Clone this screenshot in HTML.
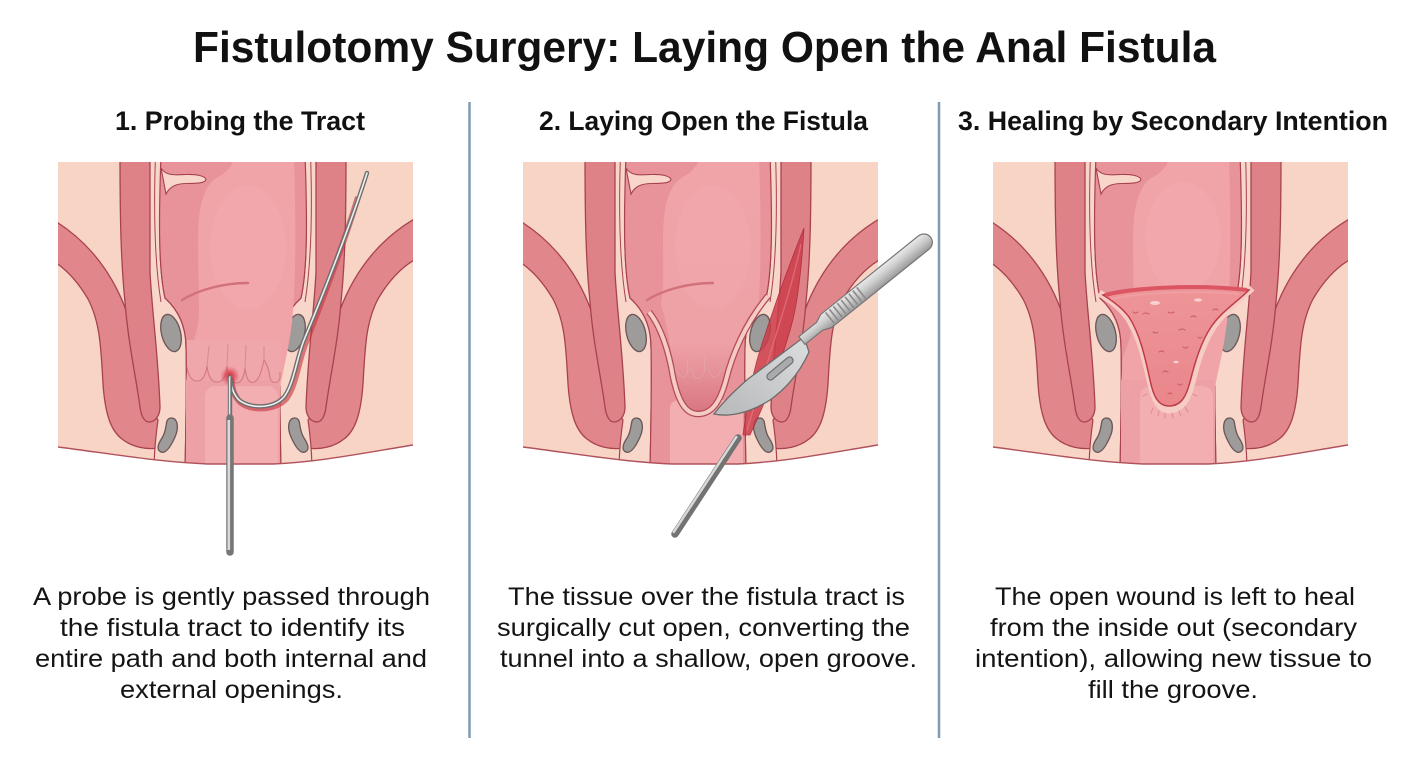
<!DOCTYPE html>
<html><head><meta charset="utf-8">
<style>html,body{margin:0;padding:0;background:#fff;}svg{display:block}</style>
</head>
<body>
<svg width="1408" height="768" viewBox="0 0 1408 768" xmlns="http://www.w3.org/2000/svg" xmlns:xlink="http://www.w3.org/1999/xlink">
<defs>
  <clipPath id="box"><path d="M0,0 H355 V283 C300,292 260,300 215,302 L150,302 C100,300 55,292 0,285 Z"/></clipPath>
  <radialGradient id="glow" cx="0.5" cy="0.5" r="0.5">
    <stop offset="0" stop-color="#c8202e" stop-opacity="0.95"/>
    <stop offset="0.5" stop-color="#d83a48" stop-opacity="0.6"/>
    <stop offset="1" stop-color="#e05060" stop-opacity="0"/>
  </radialGradient>
  <linearGradient id="p2lumen" x1="0" y1="0" x2="0" y2="252" gradientUnits="userSpaceOnUse">
    <stop offset="0" stop-color="#f0a4a8"/>
    <stop offset="0.72" stop-color="#eea1a6"/>
    <stop offset="0.86" stop-color="#e48d95"/>
    <stop offset="1" stop-color="#d9747e"/>
  </linearGradient>
  <linearGradient id="wedgeG" x1="0" y1="125" x2="0" y2="245" gradientUnits="userSpaceOnUse">
    <stop offset="0" stop-color="#ee9598"/>
    <stop offset="1" stop-color="#e9868b"/>
  </linearGradient>
  <linearGradient id="handleG" x1="0" y1="-9" x2="0" y2="9" gradientUnits="userSpaceOnUse">
    <stop offset="0" stop-color="#ececec"/>
    <stop offset="0.45" stop-color="#cdcdcd"/>
    <stop offset="1" stop-color="#979797"/>
  </linearGradient>
  <linearGradient id="bladeG" x1="280" y1="180" x2="215" y2="250" gradientUnits="userSpaceOnUse">
    <stop offset="0" stop-color="#dadbdc"/>
    <stop offset="1" stop-color="#bcbdbf"/>
  </linearGradient>

  <g id="half">
    <path d="M-8,56 C20,72 50,100 68,148 L98,150 L101,286 C88,288 74,285 64,277 C52,268 47,250 45,222 C43,185 42,160 30,137 C20,120 8,106 -8,97 Z" fill="#e1868b" stroke="#a8424e" stroke-width="1.3"/>
    <path d="M84,-8 L104,-8 C101,50 100,105 107,136 C117,145 128,160 128,185 C129,215 128,255 127,310 L96,310 C96,292 98,272 100,258 L88,240 Z" fill="#f8d6c9" stroke="#a8424e" stroke-width="1.2"/>
    <path d="M97.5,-8 C95.5,50 96.5,100 103,140" fill="none" stroke="#a8424e" stroke-width="1"/>
    <path d="M62,-8 L92,-8 L92,110 C94,150 100,190 102,245 C102,255 96,260 91,260 C86,260 83,253 82,245 C78,215 70,180 67,140 C63,100 62,60 62,-8 Z" fill="#df8288" stroke="#a8424e" stroke-width="1.3"/>
    <ellipse cx="113" cy="171" rx="9.5" ry="19" transform="rotate(-14 113 171)" fill="#9e9b9b" stroke="#6a5658" stroke-width="1.3"/>
    <path d="M113,256 C120,256 121,266 117,275 C113,284 108,292 103,290 C98,288 100,282 104,276 C108,270 108,262 109,259 C110,257 111,256 113,256 Z" fill="#9e9b9b" stroke="#6a5658" stroke-width="1.3"/>
  </g>

  <g id="anat">
    <path d="M0,0 H355 V283 C300,292 260,300 215,302 L150,302 C100,300 55,292 0,285 Z" fill="#f8d4c5"/>
    <use xlink:href="#half"/>
    <use xlink:href="#half" transform="matrix(-1 0 0 1 350 0)"/>
    <path d="M103,-8 C101,50 100,105 107,136 C117,145 128,160 128,185 C129,215 128,255 127,310 L223,310 C222,255 221,215 222,185 C222,160 233,145 243,136 C250,105 249,50 247,-8 Z" fill="#e8939a" stroke="#a8424e" stroke-width="1.2"/>
  </g>

  <path id="lumen13" d="M178,-8 C175,4 168,11 160,15 C151,20 148,28 145,36 C141,48 140,62 140,80 C140,105 141,130 141,150 C141,165 136,180 130,195 L128,225 L222,225 C226,205 231,185 234,160 C238,125 238,60 236,-8 Z"/>

  <g id="fold">
    <path d="M103,6 C108,14 116,13 128,12.5 C139,12 147,14 148,17.5 C147,21 140,21.5 129,21.5 C119,21.5 112,24 108,32 Z" fill="#f8d6c9" stroke="#a8424e" stroke-width="1.1"/>
  </g>
</defs>

<!-- Title -->
<text x="704.5" y="62" text-anchor="middle" font-family="'Liberation Sans', Arial, sans-serif" font-size="44" font-weight="700" fill="#111" textLength="1023" lengthAdjust="spacingAndGlyphs">Fistulotomy Surgery: Laying Open the Anal Fistula</text>

<!-- Headings -->
<g font-family="'Liberation Sans', Arial, sans-serif" font-size="27" font-weight="700" fill="#111" text-anchor="middle">
  <text x="240" y="130" textLength="250" lengthAdjust="spacingAndGlyphs">1. Probing the Tract</text>
  <text x="703.5" y="130" textLength="329" lengthAdjust="spacingAndGlyphs">2. Laying Open the Fistula</text>
  <text x="1173" y="130" textLength="430" lengthAdjust="spacingAndGlyphs">3. Healing by Secondary Intention</text>
</g>

<!-- Dividers -->
<line x1="469.5" y1="102" x2="469.5" y2="738" stroke="#7f9bb2" stroke-width="2.5"/>
<line x1="939" y1="102" x2="939" y2="738" stroke="#7f9bb2" stroke-width="2.5"/>

<!-- Body text -->
<g font-family="'Liberation Sans', Arial, sans-serif" font-size="25" fill="#141414" text-anchor="middle">
  <text x="231.5" y="605" textLength="397" lengthAdjust="spacingAndGlyphs">A probe is gently passed through</text>
  <text x="232.5" y="636" textLength="345" lengthAdjust="spacingAndGlyphs">the fistula tract to identify its</text>
  <text x="231" y="667" textLength="392" lengthAdjust="spacingAndGlyphs">entire path and both internal and</text>
  <text x="231.5" y="698" textLength="223" lengthAdjust="spacingAndGlyphs">external openings.</text>

  <text x="706.5" y="605" textLength="397" lengthAdjust="spacingAndGlyphs">The tissue over the fistula tract is</text>
  <text x="703.5" y="636" textLength="413" lengthAdjust="spacingAndGlyphs">surgically cut open, converting the</text>
  <text x="708.5" y="667" textLength="417" lengthAdjust="spacingAndGlyphs">tunnel into a shallow, open groove.</text>

  <text x="1175" y="605" textLength="360" lengthAdjust="spacingAndGlyphs">The open wound is left to heal</text>
  <text x="1173.5" y="636" textLength="367" lengthAdjust="spacingAndGlyphs">from the inside out (secondary</text>
  <text x="1173.5" y="667" textLength="397" lengthAdjust="spacingAndGlyphs">intention), allowing new tissue to</text>
  <text x="1173" y="698" textLength="170" lengthAdjust="spacingAndGlyphs">fill the groove.</text>
</g>

<!-- ================= PANEL 1 ================= -->
<g transform="translate(58,162)">
  <g clip-path="url(#box)">
    <use xlink:href="#anat"/>
    <use xlink:href="#lumen13" fill="#f0a4a8"/>
    <ellipse cx="190" cy="85" rx="38" ry="62" fill="#f3b1b3" opacity="0.25"/>
    <use xlink:href="#fold"/>
    <path d="M124,138 C140,128 165,121 190,121" fill="none" stroke="#d3717a" stroke-width="2.4" stroke-linecap="round"/>
    <!-- canal -->
    <path d="M128,218 L222,218 L222,310 L128,310 Z" fill="#eda0a5"/>
    <path d="M147,236 Q147,224 159,224 L208,224 Q220,224 220,236 L220,310 L147,310 Z" fill="#f2aeb1"/>
    <!-- scallops (no top outline) -->
    <path d="M129,178 L223,178 L222,216 C220,222 214,222 212,216 C211,208 209,202 206,198 C204,206 202,218 196,220 C190,222 188,214 187,206 C186,214 184,221 178,221 C172,221 170,212 169,204 C168,212 166,220 159,220 C152,220 150,212 149,204 C148,212 145,219 139,219 C133,219 130,212 129,205 Z" fill="#f0a7ab"/>
    <path d="M222,210 L222,216 C220,222 214,222 212,216 C211,208 209,202 206,198 C204,206 202,218 196,220 C190,222 188,214 187,206 C186,214 184,221 178,221 C172,221 170,212 169,204 C168,212 166,220 159,220 C152,220 150,212 149,204 C148,212 145,219 139,219 C133,219 130,212 129,205" fill="none" stroke="#d17a82" stroke-width="1.1"/>
    <path d="M149,204 L151,184 M169,204 L170,182 M187,206 L188,183 M206,198 L206,184" stroke="#d98890" stroke-width="1" fill="none"/>
    <circle cx="172" cy="214" r="10" fill="url(#glow)"/>
  </g>
  <path d="M0,285 C55,292 100,300 150,302 L215,302 C260,300 300,292 355,283" fill="none" stroke="#b0525c" stroke-width="1.4"/>
  <!-- probe -->
  <path d="M300,35 C288,75 264,140 248,180 C240,200 238,224 228,237 C216,249 192,249 182,240 C176,234 174,226 173,216" fill="none" stroke="#c4303c" stroke-width="6" opacity="0.6"/>
  <path d="M309,11 C290,70 262,140 246,178 C238,198 236,222 226,235 C215,247 192,247 181,238 C175,232 173,224 172,215" fill="none" stroke="#6f6f6f" stroke-width="4.4" stroke-linecap="round"/>
  <path d="M309,11 C290,70 262,140 246,178 C238,198 236,222 226,235 C215,247 192,247 181,238 C175,232 173,224 172,215" fill="none" stroke="#efefef" stroke-width="1.6" stroke-linecap="round"/>
  <line x1="172" y1="215" x2="172" y2="262" stroke="#6f6f6f" stroke-width="4.4"/>
  <line x1="171.6" y1="215" x2="171.6" y2="262" stroke="#e6e6e6" stroke-width="1.5"/>
  <path d="M172,256 L172,390" stroke="#767676" stroke-width="7.5" stroke-linecap="round"/>
  <path d="M170.8,258 L170.8,388" stroke="#dadada" stroke-width="2.6"/>
</g>

<!-- ================= PANEL 2 ================= -->
<g transform="translate(523,162)">
  <g clip-path="url(#box)">
    <use xlink:href="#anat"/>
    <path d="M147,246 Q147,238 159,238 L208,238 Q220,238 220,246 L220,310 L147,310 Z" fill="#f2aeb1"/>
    <path d="M178,-8 C175,4 168,11 160,15 C151,20 148,28 145,36 C141,48 140,62 140,80 C140,105 141,125 138,142 C145,165 148,190 152,215 C157,238 163,250 175,250 C188,250 196,238 201,218 C207,192 218,160 236,140 C238,100 238,50 236,-8 Z" fill="url(#p2lumen)"/>
    <ellipse cx="190" cy="85" rx="38" ry="62" fill="#f3b1b3" opacity="0.25"/>
    <use xlink:href="#fold"/>
    <path d="M124,138 C140,128 165,121 190,121" fill="none" stroke="#d3717a" stroke-width="2.4" stroke-linecap="round"/>
    <!-- faint scallops -->
    <path d="M150,200 C154,214 160,218 164,212 C166,206 168,204 170,212 C172,218 178,218 181,210 C183,204 185,206 188,212 C191,218 196,214 200,204" fill="none" stroke="#e0a0a6" stroke-width="1.2" opacity="0.8"/>
    <path d="M164,212 L165,196 M181,210 L182,194" stroke="#e3a7ad" stroke-width="1" opacity="0.8"/>
    <!-- groove rim -->
    <path d="M126,150 C138,165 146,190 150,215 C155,238 162,252 175,252 C189,252 197,240 203,218 C209,193 222,162 245,134" fill="none" stroke="#b04c57" stroke-width="6.5"/>
    <path d="M126,150 C138,165 146,190 150,215 C155,238 162,252 175,252 C189,252 197,240 203,218 C209,193 222,162 245,134" fill="none" stroke="#f5cbc3" stroke-width="4"/>
    <!-- incision -->
    <path d="M281,66 C279,100 275,140 268,165 C261,190 248,228 227,273 L220,273 C223,250 229,212 238,185 C246,160 260,118 281,66 Z" fill="#cc3d4a" opacity="0.85" stroke="#a82434" stroke-width="0.8"/>
    <path d="M278,82 C270,120 257,160 247,192 C239,220 231,246 224,268" fill="none" stroke="#e5707a" stroke-width="1.4" opacity="0.8"/>
  </g>
  <path d="M0,285 C55,292 100,300 150,302 L215,302 C260,300 300,292 355,283" fill="none" stroke="#b0525c" stroke-width="1.4"/>
  <!-- probe -->
  <line x1="152" y1="372" x2="215" y2="276" stroke="#737373" stroke-width="7.5" stroke-linecap="round"/>
  <line x1="150.8" y1="370" x2="213.3" y2="275" stroke="#dadada" stroke-width="2.4" stroke-linecap="round"/>
  <!-- scalpel blade -->
  <path d="M281,175 L225,217 C210,230 200,240 191,252 C205,255 225,252 247,238 C264,226 277,210 286,190 Z" fill="url(#bladeG)" stroke="#6b6b6b" stroke-width="1.3"/>
  <rect x="241" y="203" width="32" height="7" rx="3.5" transform="rotate(-40 257 206.5)" fill="#a9aaac" stroke="#6b6b6b" stroke-width="1.1"/>
  <!-- scalpel handle -->
  <g transform="translate(282,176) rotate(-38.8)">
    <path d="M-4,-5 L19,-5 L27,-8.5 L152,-8.5 C157,-8.5 161,-5 161,0 C161,5 157,8.5 152,8.5 L27,8.5 L19,5 L-4,5 Z" fill="url(#handleG)" stroke="#767676" stroke-width="1.2"/>
    <g stroke="#8a8a8a" stroke-width="1.6">
      <line x1="32" y1="-7" x2="32" y2="7"/>
      <line x1="37" y1="-7" x2="37" y2="7"/>
      <line x1="42" y1="-7" x2="42" y2="7"/>
      <line x1="47" y1="-7" x2="47" y2="7"/>
      <line x1="52" y1="-7" x2="52" y2="7"/>
      <line x1="57" y1="-7" x2="57" y2="7"/>
      <line x1="62" y1="-7" x2="62" y2="7"/>
      <line x1="67" y1="-7" x2="67" y2="7"/>
      <line x1="72" y1="-7" x2="72" y2="7"/>
    </g>
  </g>
</g>

<!-- ================= PANEL 3 ================= -->
<g transform="translate(993,162)">
  <g clip-path="url(#box)">
    <use xlink:href="#anat"/>
    <use xlink:href="#lumen13" fill="#f0a4a8"/>
    <ellipse cx="190" cy="75" rx="38" ry="55" fill="#f3b1b3" opacity="0.25"/>
    <use xlink:href="#fold"/>
    <path d="M128,218 L222,218 L222,310 L128,310 Z" fill="#eda0a5"/>
    <path d="M128,150 C140,170 150,200 158,225 L200,225 C205,200 212,170 230,150 Z" fill="#efa9ad"/>
    <path d="M147,236 Q147,224 159,224 L208,224 Q220,224 220,236 L220,310 L147,310 Z" fill="#f2aeb1"/>
    <!-- light rim -->
    <path d="M106,131 C122,140 132,150 138,160 C147,176 152,196 157,218 C161,236 166,248 176,248 C189,248 195,236 199,220 C204,200 210,180 220,165 C230,150 244,140 259,126" fill="none" stroke="#f6cdc4" stroke-width="7"/>
    <!-- wedge -->
    <path d="M110,133 C140,126 200,122 256,128 C244,140 228,150 218,165 C208,180 202,200 197,220 C193,235 188,244 176,244 C164,244 160,232 157,218 C152,195 147,172 136,155 C129,146 120,139 110,133 Z" fill="url(#wedgeG)" stroke="#bf3b49" stroke-width="1.5"/>
    <path d="M112,133 C140,126 200,122 254,128" fill="none" stroke="#dc5563" stroke-width="4"/>
    <path d="M118,137 C145,131 200,128 246,132" fill="none" stroke="#f0a3a6" stroke-width="2" opacity="0.7"/>
    <g fill="#fbe0e0" opacity="0.8">
      <ellipse cx="162" cy="141" rx="5" ry="2"/>
      <ellipse cx="205" cy="138" rx="4" ry="1.6"/>
      <ellipse cx="183" cy="200" rx="2.5" ry="1.3"/>
    </g>
    <g fill="none" stroke="#cf5f69" stroke-width="1.1" stroke-linecap="round">
      <path d="M150,152 q3,-2 6,0"/>
      <path d="M175,150 q3,2 6,0"/>
      <path d="M198,155 q2,-2 5,0"/>
      <path d="M160,170 q3,2 5,0"/>
      <path d="M186,168 q3,-2 6,0"/>
      <path d="M205,175 q2,2 4,0"/>
      <path d="M166,190 q3,-2 5,0"/>
      <path d="M190,185 q2,2 5,0"/>
      <path d="M170,210 q2,-2 5,0"/>
      <path d="M185,222 q2,2 4,0"/>
      <path d="M175,232 q2,-2 4,0"/>
      <path d="M140,150 q3,2 5,0"/>
      <path d="M220,148 q3,-2 5,0"/>
    </g>
    <g stroke="#d88890" stroke-width="0.9" stroke-linecap="round">
      <line x1="160" y1="246" x2="158" y2="251"/>
      <line x1="166" y1="249" x2="165" y2="254"/>
      <line x1="172" y1="251" x2="172" y2="256"/>
      <line x1="179" y1="251" x2="180" y2="256"/>
      <line x1="186" y1="249" x2="188" y2="254"/>
      <line x1="192" y1="245" x2="195" y2="250"/>
      <line x1="154" y1="232" x2="150" y2="234"/>
      <line x1="200" y1="232" x2="204" y2="234"/>
    </g>
  </g>
  <path d="M0,285 C55,292 100,300 150,302 L215,302 C260,300 300,292 355,283" fill="none" stroke="#b0525c" stroke-width="1.4"/>
</g>
</svg>
</body></html>
